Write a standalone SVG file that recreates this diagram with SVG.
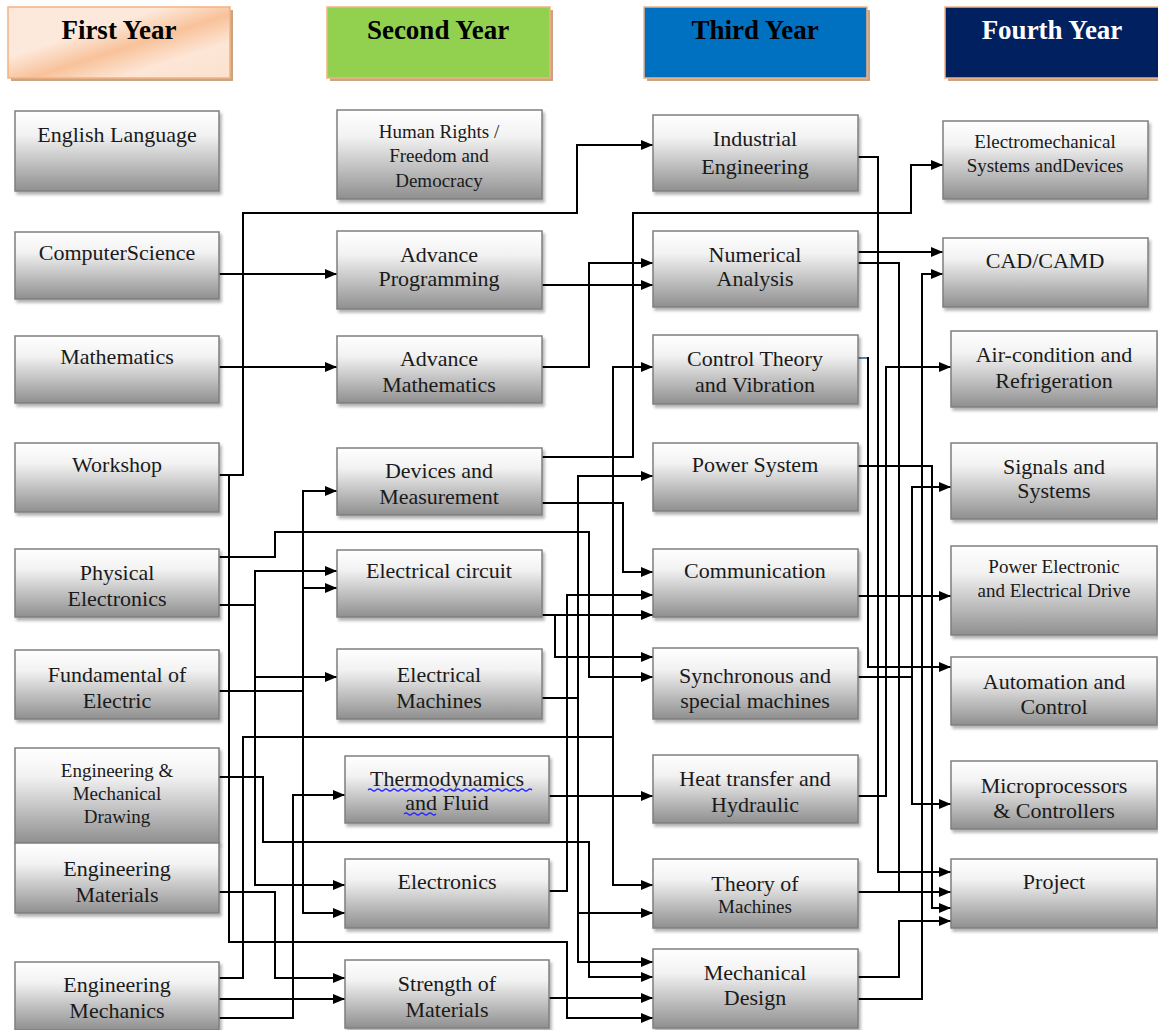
<svg xmlns="http://www.w3.org/2000/svg" width="1158" height="1030" viewBox="0 0 1158 1030">
<defs>
<linearGradient id="gbox" x1="0" y1="0" x2="0" y2="1">
<stop offset="0" stop-color="#ffffff"/>
<stop offset="0.3" stop-color="#f2f2f2"/>
<stop offset="1" stop-color="#8f8f8f"/>
</linearGradient>
<linearGradient id="gpeach" x1="0" y1="0" x2="1" y2="1">
<stop offset="0" stop-color="#fbe8da"/>
<stop offset="0.35" stop-color="#fde9dc"/>
<stop offset="0.55" stop-color="#f8c29a"/>
<stop offset="0.75" stop-color="#fde6d6"/>
<stop offset="1" stop-color="#fbe2cf"/>
</linearGradient>
<filter id="sh" x="-10%" y="-10%" width="130%" height="140%">
<feDropShadow dx="2" dy="3" stdDeviation="1.5" flood-color="#000" flood-opacity="0.3"/>
</filter>
<marker id="ar" viewBox="0 0 12 10" refX="12" refY="5" markerWidth="12" markerHeight="10" markerUnits="userSpaceOnUse" orient="auto">
<path d="M0,0 L12,5 L0,10 Z" fill="#000"/>
</marker>
<style>
.box{fill:url(#gbox);stroke:#7f7f7f;stroke-width:1.5;filter:url(#sh)}
.t{font-family:"Liberation Serif","Times New Roman",serif;font-size:22px;fill:#1a1a1a;text-anchor:middle}
.s{font-size:19px}
.h{font-family:"Liberation Serif","Times New Roman",serif;font-size:27px;font-weight:bold;text-anchor:middle}
.hsh{fill:#c9a583}
.c{fill:none;stroke:#000;stroke-width:2}
.a{marker-end:url(#ar)}
</style>
</defs>
<rect width="1158" height="1030" fill="#fff"/>

<g id="h1"><rect class="hsh" x="11" y="10" width="222" height="71"/><rect x="8" y="7" width="222" height="71" fill="url(#gpeach)" stroke="#f4b183" stroke-width="1.5"/><text class="h" x="119" y="39" fill="#000">First Year</text></g>
<g id="h2"><rect class="hsh" x="330" y="10" width="223" height="71"/><rect x="327" y="7" width="223" height="71" fill="#92d050" stroke="#f4b183" stroke-width="1.5"/><text class="h" x="438" y="39" fill="#000">Second Year</text></g>
<g id="h3"><rect class="hsh" x="647" y="10" width="223" height="71"/><rect x="644" y="7" width="223" height="71" fill="#0070c0" stroke="#f4b183" stroke-width="1.5"/><text class="h" x="755" y="39" fill="#000">Third Year</text></g>
<g id="h4"><rect class="hsh" x="948" y="10" width="215" height="71"/><rect x="945" y="7" width="216" height="71" fill="#002060" stroke="#f4b183" stroke-width="1.5"/><text class="h" x="1052" y="39" fill="#fff">Fourth Year</text></g>

<g id="connectors">
<path class="c a" d="M219,274 H337"/>
<path class="c a" d="M219,367 H337"/>
<path class="c a" d="M219,475 H243 V213 H577 V145 H653"/>
<path class="c a" d="M229,475 V942 H567 V1018 H653"/>
<path class="c a" d="M219,557 H275 V532 H589 V677 H653"/>
<path class="c a" d="M219,605 H255 V885 H345"/>
<path class="c a" d="M255,605 V571 H337"/>
<path class="c a" d="M255,677 H337"/>
<path class="c a" d="M219,691 H303 V913 H345"/>
<path class="c a" d="M303,691 V491 H337"/>
<path class="c a" d="M303,588 H337"/>
<path class="c a" d="M219,777 H263 V842 H589 V977 H653"/>
<path class="c a" d="M219,892 H275 V978 H345"/>
<path class="c a" d="M219,978 H243 V737 H613 V885 H653"/>
<path class="c a" d="M613,737 V367 H653"/>
<path class="c a" d="M219,999 H345"/>
<path class="c a" d="M219,1018 H293 V795 H345"/>
<path class="c a" d="M542,285 H653"/>
<path class="c a" d="M542,367 H589 V263 H653"/>
<path class="c a" d="M542,457 H633 V213 H911 V165 H943"/>
<path class="c a" d="M542,503 H623 V572 H653"/>
<path class="c a" d="M542,615 H653"/>
<path class="c a" d="M555,615 V657 H653"/>
<path class="c a" d="M542,698 H578 V962 H653"/>
<path class="c a" d="M578,698 V476 H653"/>
<path class="c a" d="M578,913 H653"/>
<path class="c a" d="M549,796 H653"/>
<path class="c a" d="M549,891 H567 V595 H653"/>
<path class="c a" d="M549,998 H653"/>
<path class="c a" d="M858,157 H878 V872 H951"/>
<path class="c a" d="M858,252 H943"/>
<path class="c" d="M858,263 H899 V892"/>
<path fill="none" stroke="#4f81bd" stroke-width="2" d="M858,358 H868"/>
<path class="c a" d="M868,357 V667 H951"/>
<path class="c a" d="M858,466 H932 V908 H951"/>
<path class="c a" d="M858,596 H951"/>
<path class="c a" d="M858,677 H912 V804 H951"/>
<path class="c a" d="M912,677 V487 H951"/>
<path class="c a" d="M858,796 H886 V367 H951"/>
<path class="c a" d="M858,892 H951"/>
<path class="c a" d="M858,977 H899 V921 H951"/>
<path class="c a" d="M858,999 H922 V274 H943"/>
</g>

<g id="english"><rect class="box" x="15" y="111" width="204" height="80"/><text class="t" x="117" y="142">English Language</text></g>
<g id="cs"><rect class="box" x="15" y="232" width="204" height="67"/><text class="t" x="117" y="260">ComputerScience</text></g>
<g id="math"><rect class="box" x="15" y="336" width="204" height="67"/><text class="t" x="117" y="364">Mathematics</text></g>
<g id="workshop"><rect class="box" x="15" y="443" width="204" height="69"/><text class="t" x="117" y="472">Workshop</text></g>
<g id="physel"><rect class="box" x="15" y="549" width="204" height="68"/><text class="t" x="117" y="580">Physical</text><text class="t" x="117" y="606">Electronics</text></g>
<g id="fund"><rect class="box" x="15" y="650" width="204" height="69"/><text class="t" x="117" y="682">Fundamental of</text><text class="t" x="117" y="708">Electric</text></g>
<g id="engdraw"><rect class="box" x="15" y="748" width="204" height="95"/><text class="t s" x="117" y="777">Engineering &amp;</text><text class="t s" x="117" y="800">Mechanical</text><text class="t s" x="117" y="823">Drawing</text></g>
<g id="engmat"><rect class="box" x="15" y="843" width="204" height="70"/><text class="t" x="117" y="876">Engineering</text><text class="t" x="117" y="902">Materials</text></g>
<g id="engmech"><rect class="box" x="15" y="962" width="204" height="68"/><text class="t" x="117" y="992">Engineering</text><text class="t" x="117" y="1018">Mechanics</text></g>

<g id="human"><rect class="box" x="337" y="110" width="205" height="89"/><text class="t s" x="439" y="138">Human Rights /</text><text class="t s" x="439" y="162">Freedom and</text><text class="t s" x="439" y="187">Democracy</text></g>
<g id="advprog"><rect class="box" x="337" y="231" width="205" height="78"/><text class="t" x="439" y="262">Advance</text><text class="t" x="439" y="286">Programming</text></g>
<g id="advmath"><rect class="box" x="337" y="336" width="205" height="67"/><text class="t" x="439" y="366">Advance</text><text class="t" x="439" y="392">Mathematics</text></g>
<g id="devices"><rect class="box" x="337" y="448" width="205" height="67"/><text class="t" x="439" y="478">Devices and</text><text class="t" x="439" y="504">Measurement</text></g>
<g id="elcircuit"><rect class="box" x="337" y="550" width="205" height="67"/><text class="t" x="439" y="578">Electrical circuit</text></g>
<g id="elmach"><rect class="box" x="337" y="649" width="205" height="70"/><text class="t" x="439" y="682">Electrical</text><text class="t" x="439" y="708">Machines</text></g>
<g id="thermo"><rect class="box" x="345" y="756" width="204" height="67"/><text class="t" x="447" y="786">Thermodynamics</text><text class="t" x="447" y="810">and Fluid</text><path d="M368,790 q2,-2 4,0 t4,0 t4,0 t4,0 t4,0 t4,0 t4,0 t4,0 t4,0 t4,0 t4,0 t4,0 t4,0 t4,0 t4,0 t4,0 t4,0 t4,0 t4,0 t4,0 t4,0 t4,0 t4,0 t4,0 t4,0 t4,0 t4,0 t4,0 t4,0 t4,0 t4,0 t4,0 t4,0 t4,0 t4,0 t4,0 t4,0 t4,0 t4,0 t4,0 t4,0 M404,814 q2,-2 4,0 t4,0 t4,0 t4,0 t4,0 t4,0 t4,0 t4,0" fill="none" stroke="#2b2bff" stroke-width="1.2"/></g>
<g id="electronics"><rect class="box" x="345" y="859" width="204" height="69"/><text class="t" x="447" y="889">Electronics</text></g>
<g id="strength"><rect class="box" x="345" y="960" width="204" height="68"/><text class="t" x="447" y="991">Strength of</text><text class="t" x="447" y="1017">Materials</text></g>

<g id="industrial"><rect class="box" x="653" y="115" width="205" height="76"/><text class="t" x="755" y="146">Industrial</text><text class="t" x="755" y="174">Engineering</text></g>
<g id="numerical"><rect class="box" x="653" y="231" width="205" height="76"/><text class="t" x="755" y="262">Numerical</text><text class="t" x="755" y="286">Analysis</text></g>
<g id="control"><rect class="box" x="653" y="335" width="205" height="69"/><text class="t" x="755" y="366">Control Theory</text><text class="t" x="755" y="392">and Vibration</text></g>
<g id="power"><rect class="box" x="653" y="443" width="205" height="68"/><text class="t" x="755" y="472">Power System</text></g>
<g id="comm"><rect class="box" x="653" y="549" width="205" height="68"/><text class="t" x="755" y="578">Communication</text></g>
<g id="sync"><rect class="box" x="653" y="648" width="205" height="71"/><text class="t" x="755" y="683">Synchronous and</text><text class="t" x="755" y="708">special machines</text></g>
<g id="heat"><rect class="box" x="653" y="755" width="205" height="68"/><text class="t" x="755" y="786">Heat transfer and</text><text class="t" x="755" y="812">Hydraulic</text></g>
<g id="theory"><rect class="box" x="653" y="859" width="205" height="69"/><text class="t" x="755" y="891">Theory of</text><text class="t s" x="755" y="913">Machines</text></g>
<g id="mechdesign"><rect class="box" x="653" y="949" width="205" height="79"/><text class="t" x="755" y="980">Mechanical</text><text class="t" x="755" y="1005">Design</text></g>

<g id="electromech"><rect class="box" x="943" y="121" width="205" height="78"/><text class="t s" x="1045" y="148">Electromechanical</text><text class="t s" x="1045" y="172">Systems andDevices</text></g>
<g id="cad"><rect class="box" x="943" y="238" width="205" height="69"/><text class="t" x="1045" y="268">CAD/CAMD</text></g>
<g id="aircon"><rect class="box" x="951" y="331" width="206" height="76"/><text class="t" x="1054" y="362">Air-condition and</text><text class="t" x="1054" y="388">Refrigeration</text></g>
<g id="signals"><rect class="box" x="951" y="443" width="206" height="76"/><text class="t" x="1054" y="474">Signals and</text><text class="t" x="1054" y="498">Systems</text></g>
<g id="powerel"><rect class="box" x="951" y="546" width="206" height="89"/><text class="t s" x="1054" y="573">Power Electronic</text><text class="t s" x="1054" y="597">and Electrical Drive</text></g>
<g id="automation"><rect class="box" x="951" y="657" width="206" height="68"/><text class="t" x="1054" y="689">Automation and</text><text class="t" x="1054" y="714">Control</text></g>
<g id="micro"><rect class="box" x="951" y="761" width="206" height="68"/><text class="t" x="1054" y="793">Microprocessors</text><text class="t" x="1054" y="818">&amp; Controllers</text></g>
<g id="project"><rect class="box" x="951" y="859" width="206" height="69"/><text class="t" x="1054" y="889">Project</text></g>
</svg>
